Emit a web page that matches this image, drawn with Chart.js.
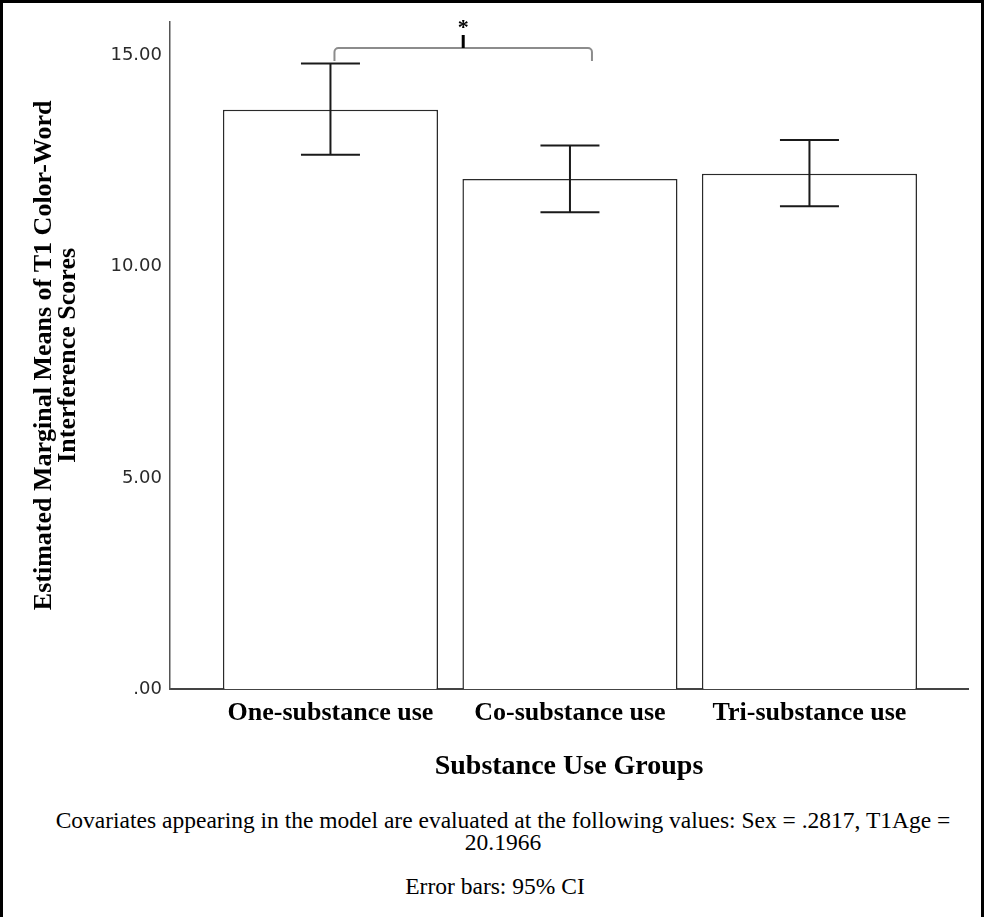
<!DOCTYPE html>
<html>
<head>
<meta charset="utf-8">
<script src="https://cdn.jsdelivr.net/npm/chart.js@4"></script>
<style>
  html, body { margin: 0; padding: 0; background: #fff; }
  #frame {
    position: relative; width: 984px; height: 917px; box-sizing: border-box;
    border-top: 3px solid #000; border-left: 3px solid #000; border-right: 3px solid #000;
    overflow: hidden;
  }
  #chart { display: block; }
  .note {
    position: absolute; left: 0; width: 1000px; text-align: center;
    font-family: "Liberation Serif", "Times New Roman", serif; font-size: 23.5px; line-height: 22px; color: #000;
  }
</style>
</head>
<body>
<div id="frame">
  <canvas id="chart" width="978" height="800"></canvas>
  <div class="note" style="top:806px;">Covariates appearing in the model are evaluated at the following values: Sex = .2817, T1Age =<br>20.1966</div>
  <div class="note" style="top:872px; width:984px;">Error bars: 95% CI</div>
</div>
<script>
// groups on the x axis
const groups = ['One-substance use', 'Co-substance use', 'Tri-substance use'];
const groupPos = [0, 1, 2];
// estimated marginal means and 95% CI
const means = [13.72, 12.08, 12.20];
const ciLow = [12.65, 11.29, 11.43];
const ciHigh = [14.81, 12.87, 13.00];
// y axis ticks
const yTicks = [0, 5, 10, 15];
const yTickLabels = ['.00', '5.00', '10.00', '15.00'];
// significance bracket between group 0 and group 1
const sigFrom = 0;
const sigTo = 1;
const sigLevel = 15.18;
const sigLabel = '*';

const errorBars = {
  id: 'errorBars',
  afterDatasetsDraw(chart) {
    const ctx = chart.ctx;
    const y = chart.scales.y;
    const bars = chart.getDatasetMeta(0).data;
    ctx.save();
    ctx.strokeStyle = '#1a1a1a';
    ctx.lineWidth = 2;
    bars.forEach((bar, i) => {
      const top = y.getPixelForValue(ciHigh[i]);
      const bot = y.getPixelForValue(ciLow[i]);
      ctx.beginPath();
      ctx.moveTo(bar.x, top); ctx.lineTo(bar.x, bot);
      ctx.moveTo(bar.x - 29.5, top); ctx.lineTo(bar.x + 29.5, top);
      ctx.moveTo(bar.x - 29.5, bot); ctx.lineTo(bar.x + 29.5, bot);
      ctx.stroke();
    });
    ctx.restore();
  }
};

const bracket = {
  id: 'bracket',
  afterDatasetsDraw(chart) {
    const ctx = chart.ctx;
    const x = chart.scales.x, y = chart.scales.y;
    const x0 = x.getPixelForValue(sigFrom) + 4;
    const x1 = x.getPixelForValue(sigTo) + 22;
    const yl = y.getPixelForValue(sigLevel);
    const r = 4, drop = 13;
    const mid = (x0 + x1) / 2;
    ctx.save();
    ctx.strokeStyle = '#8c8c8c';
    ctx.lineWidth = 2;
    ctx.beginPath();
    ctx.moveTo(x0, yl + drop);
    ctx.lineTo(x0, yl + r);
    ctx.arcTo(x0, yl, x0 + r, yl, r);
    ctx.lineTo(x1 - r, yl);
    ctx.arcTo(x1, yl, x1, yl + r, r);
    ctx.lineTo(x1, yl + drop);
    ctx.stroke();
    ctx.strokeStyle = '#000';
    ctx.lineWidth = 3;
    ctx.beginPath();
    ctx.moveTo(mid, yl); ctx.lineTo(mid, yl - 13);
    ctx.stroke();
    ctx.fillStyle = '#000';
    ctx.font = 'bold 22px "Liberation Serif"';
    ctx.textAlign = 'center';
    ctx.textBaseline = 'alphabetic';
    ctx.fillText(sigLabel, mid, yl - 14);
    ctx.restore();
  }
};

new Chart(document.getElementById('chart'), {
  type: 'bar',
  data: {
    datasets: [{
      data: groupPos.map((p, i) => ({ x: p, y: means[i] })),
      backgroundColor: '#fff',
      borderColor: '#2a2a2a',
      borderWidth: 1.5,
      categoryPercentage: 1,
      barPercentage: 0.898
    }]
  },
  options: {
    responsive: false,
    animation: false,
    layout: { padding: { top: 14, right: 13, left: 0, bottom: 0 } },
    plugins: { legend: { display: false }, tooltip: { enabled: false } },
    scales: {
      x: {
        type: 'linear',
        offset: false,
        min: -0.670,
        max: 2.662,
        afterBuildTicks: s => { s.ticks = groupPos.map(v => ({ value: v })); },
        afterFit: s => { s.height = 114; },
        grid: { display: false, drawTicks: false },
        border: { display: true, color: '#444', width: 2 },
        ticks: {
          autoSkip: false, maxRotation: 0, padding: 9, color: '#000',
          font: { family: 'Liberation Serif', size: 26, weight: 'bold', lineHeight: 1.2 },
          callback: v => groups[groupPos.indexOf(v)]
        },
        title: {
          display: true, text: 'Substance Use Groups', color: '#000',
          font: { family: 'Liberation Serif', size: 28, weight: 'bold', lineHeight: 1.2 },
          padding: { top: 0, bottom: 19 }
        }
      },
      y: {
        min: 0,
        max: 15.8,
        afterBuildTicks: s => { s.ticks = yTicks.map(v => ({ value: v })); },
        afterFit: s => { s.width = 167; },
        grid: { display: false, drawTicks: false },
        border: { display: true, color: '#555', width: 1.5 },
        ticks: {
          autoSkip: false, padding: 8, color: '#2a2a2a',
          font: { family: 'DejaVu Sans', size: 18 },
          callback: (v, i) => yTickLabels[yTicks.indexOf(v)]
        },
        title: {
          display: true,
          text: ['Estimated Marginal Means of T1 Color-Word', 'Interference Scores'],
          color: '#000',
          font: { family: 'Liberation Serif', size: 26, weight: 'bold', lineHeight: 0.9 },
          padding: { top: 30, bottom: 0 }
        }
      }
    }
  },
  plugins: [errorBars, bracket]
});
</script>
</body>
</html>
